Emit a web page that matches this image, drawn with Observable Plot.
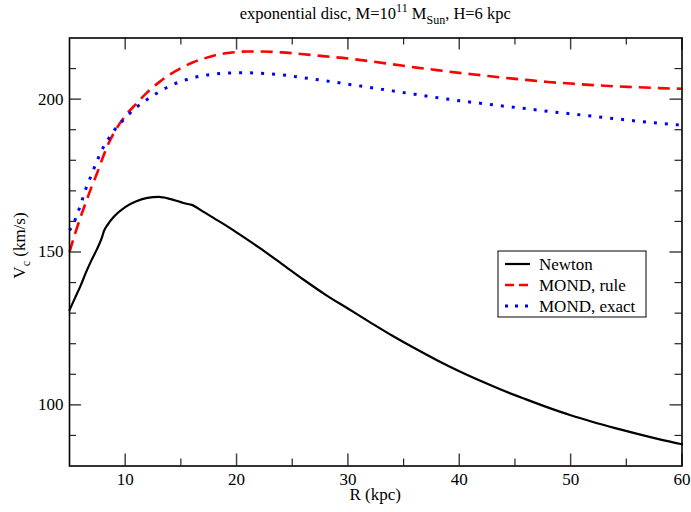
<!DOCTYPE html>
<html>
<head>
<meta charset="utf-8">
<script src="https://cdn.jsdelivr.net/npm/d3@7"></script>
<script src="https://cdn.jsdelivr.net/npm/@observablehq/plot@0.6"></script>
<style>
  html, body { margin: 0; padding: 0; background: white; }
  #chart svg { display: block; }
</style>
</head>
<body>
<div id="chart"></div>
<script>
// ---- data ----
const newtonR = [5, 5.5, 6, 6.5, 7, 7.5, 7.9, 8.1, 8.4, 9, 10, 11, 12, 13, 14, 15, 15.6, 15.9, 17, 18, 19, 20, 22, 24, 26, 28, 30, 32, 34, 36, 38, 40, 42, 44, 46, 48, 50, 52, 54, 56, 58, 60];
const newtonV = [131, 135, 139, 143.5, 147.5, 151.2, 154.6, 156.9, 158.8, 161.6, 164.7, 166.6, 167.7, 168, 167.4, 166.3, 165.7, 165.5, 163.2, 161, 158.8, 156.4, 151.5, 146.3, 141, 136, 131.5, 127, 122.6, 118.5, 114.6, 111, 107.7, 104.6, 101.8, 99.1, 96.6, 94.4, 92.4, 90.5, 88.7, 87.1];

const ruleR = [5, 5.5, 6, 6.5, 7, 7.5, 8, 8.5, 9, 10, 11, 12, 13, 14, 15, 16, 17, 18, 19, 20, 21, 22, 23, 24, 26, 28, 30, 32, 34, 36, 38, 40, 42, 44, 46, 48, 50, 52, 54, 56, 58, 60];
const ruleV = [150, 156, 161.5, 166.5, 171.5, 176, 181, 185.5, 189, 194.5, 198.5, 202.3, 205.4, 208, 210.1, 211.9, 213.2, 214.3, 215, 215.4, 215.6, 215.6, 215.5, 215.3, 214.7, 214, 213.3, 212.4, 211.4, 210.4, 209.5, 208.6, 207.8, 207, 206.3, 205.6, 205.1, 204.6, 204.2, 203.9, 203.6, 203.4];

const exactR = [5, 5.5, 6, 6.5, 7, 7.5, 8, 8.5, 9, 10, 11, 12, 13, 14, 15, 16, 17, 18, 19, 20, 21, 22, 23, 24, 26, 28, 30, 32, 34, 36, 38, 40, 42, 44, 46, 48, 50, 52, 54, 56, 58, 60];
const exactV = [157, 160.5, 165.5, 171, 175.5, 180, 184, 187, 189.7, 193.8, 197.3, 200, 202.3, 204.3, 205.8, 206.9, 207.7, 208.2, 208.5, 208.6, 208.6, 208.5, 208.3, 208, 207, 206, 204.9, 203.8, 202.7, 201.6, 200.5, 199.5, 198.6, 197.7, 196.9, 196, 195.2, 194.4, 193.6, 192.8, 192.1, 191.5];

const xMajor = [10, 20, 30, 40, 50, 60];
const xMinor = [15, 25, 35, 45, 55];
const yMajor = [100, 150, 200];
const yMinor = [90, 110, 120, 130, 140, 160, 170, 180, 190, 210];

const seriesNames = ["Newton", "MOND, rule", "MOND, exact"];

// ---- build tables ----
const toRows = (R, V) => R.map((r, i) => ({R: r, V: V[i]}));
const newton = toRows(newtonR, newtonV);
const rule = toRows(ruleR, ruleV);
const exact = toRows(exactR, exactV);

const W = 691, H = 512;
const mL = 69, mR = 9.5, mT = 37.5, mB = 46.5;
const fw = W - mL - mR, fh = H - mT - mB;
const majorLen = 12, minorLen = 7;
const font = "'Liberation Serif', 'Times New Roman', serif";
const fs = 17;

const chart = Plot.plot({
  width: W, height: H,
  marginLeft: mL, marginRight: mR, marginTop: mT, marginBottom: mB,
  x: {domain: [5, 60]},
  y: {domain: [80, 220]},
  style: {fontFamily: font, fontSize: fs + "px", background: "white", color: "black"},
  marks: [
    Plot.line(newton, {x: "R", y: "V", stroke: "black", strokeWidth: 2.2, curve: "monotone-x"}),
    Plot.line(rule, {x: "R", y: "V", stroke: "#ff0000", strokeWidth: 2.6, strokeDasharray: "12,7", strokeLinecap: "butt", curve: "monotone-x"}),
    Plot.line(exact, {x: "R", y: "V", stroke: "#0000ff", strokeWidth: 3, strokeDasharray: "3,8", strokeLinecap: "butt", curve: "monotone-x"}),
    // inward ticks, bottom and top
    Plot.tickX(xMajor, {x: d => d, insetTop: fh - majorLen, stroke: "#444", strokeWidth: 1.5}),
    Plot.tickX(xMajor, {x: d => d, insetBottom: fh - majorLen, stroke: "#444", strokeWidth: 1.5}),
    Plot.tickX(xMinor, {x: d => d, insetTop: fh - minorLen, stroke: "#222", strokeWidth: 1.2}),
    Plot.tickX(xMinor, {x: d => d, insetBottom: fh - minorLen, stroke: "#222", strokeWidth: 1.2}),
    // inward ticks, left and right
    Plot.tickY(yMajor, {y: d => d, insetRight: fw - majorLen, stroke: "#444", strokeWidth: 1.5}),
    Plot.tickY(yMajor, {y: d => d, insetLeft: fw - majorLen, stroke: "#444", strokeWidth: 1.5}),
    Plot.tickY(yMinor, {y: d => d, insetRight: fw - minorLen, stroke: "#222", strokeWidth: 1.2}),
    Plot.tickY(yMinor, {y: d => d, insetLeft: fw - minorLen, stroke: "#222", strokeWidth: 1.2}),
    Plot.frame({stroke: "black", strokeWidth: 1.6}),
    Plot.axisX(xMajor, {tickSize: 0, tickPadding: 7, fontSize: fs, label: null}),
    Plot.axisY(yMajor, {tickSize: 0, tickPadding: 6, fontSize: fs, label: null})
  ]
});

document.getElementById("chart").appendChild(chart);

const svg = d3.select(chart);

// title
const t = svg.append("text")
  .attr("x", mL + fw / 2).attr("y", 19)
  .attr("text-anchor", "middle")
  .attr("font-family", font).attr("font-size", 16.5).attr("fill", "black");
t.append("tspan").text("exponential disc, M=10");
t.append("tspan").attr("dy", -7).attr("font-size", 12).text("11");
t.append("tspan").attr("dy", 7).text(" M");
t.append("tspan").attr("dy", 5).attr("font-size", 12).text("Sun");
t.append("tspan").attr("dy", -5).text(", H=6 kpc");

// x label
svg.append("text")
  .attr("x", mL + fw / 2).attr("y", 500)
  .attr("text-anchor", "middle")
  .attr("font-family", font).attr("font-size", fs).attr("fill", "black")
  .text("R (kpc)");

// y label
const yl = svg.append("text")
  .attr("transform", `translate(25,${mT + fh / 2 - 6}) rotate(-90)`)
  .attr("text-anchor", "middle")
  .attr("font-family", font).attr("font-size", fs).attr("fill", "black");
yl.append("tspan").text("V");
yl.append("tspan").attr("dy", 5).attr("font-size", 12).text("c");
yl.append("tspan").attr("dy", -5).text(" (km/s)");

// legend
const lg = svg.append("g").attr("font-family", font).attr("font-size", fs).attr("text-anchor", "start");
lg.append("rect").attr("x", 498).attr("y", 251).attr("width", 148).attr("height", 66)
  .attr("fill", "white").attr("stroke", "black").attr("stroke-width", 1);
const styles = [
  {stroke: "black", dash: null, w: 2.2},
  {stroke: "#ff0000", dash: "9,5", w: 2.6},
  {stroke: "#0000ff", dash: "3,7", w: 3}
];
seriesNames.forEach((name, i) => {
  const y = 264 + i * 21;
  const l = lg.append("line").attr("x1", 505).attr("x2", 530).attr("y1", y).attr("y2", y)
    .attr("stroke", styles[i].stroke).attr("stroke-width", styles[i].w);
  if (styles[i].dash) l.attr("stroke-dasharray", styles[i].dash);
  lg.append("text").attr("x", 539).attr("y", y).attr("dy", "0.35em").attr("fill", "black")
    .attr("text-anchor", "start").text(name);
});
</script>
</body>
</html>
